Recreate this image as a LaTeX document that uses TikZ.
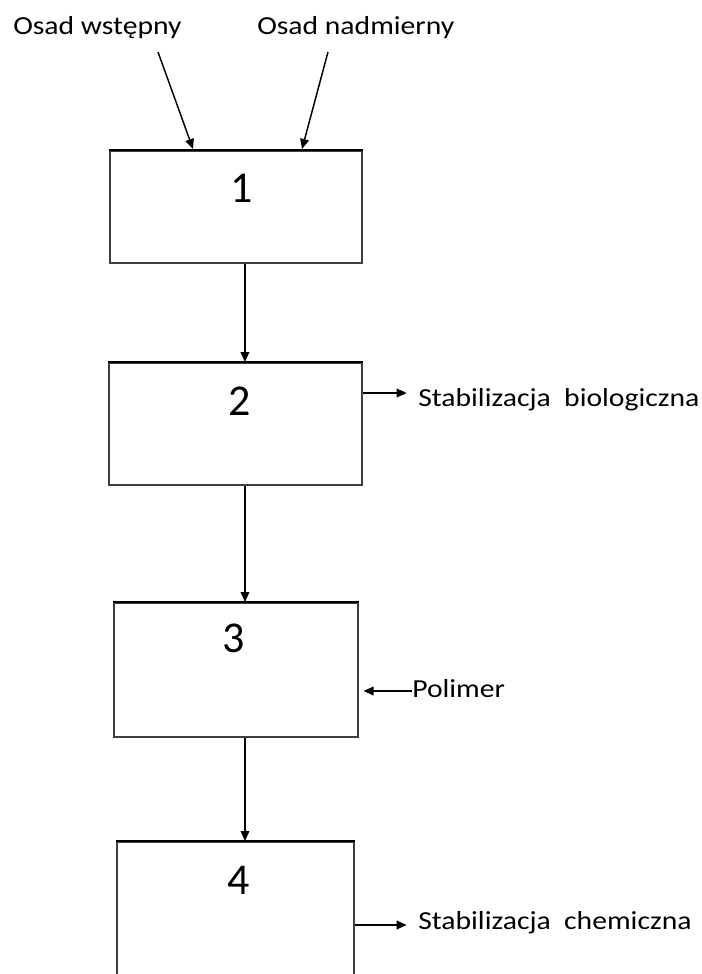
\documentclass[tikz,border=0pt]{standalone}
\usepackage{fontspec}
\setmainfont{Carlito}
\newfontfamily\lblfont[FakeStretch=1.14]{Carlito}
\usetikzlibrary{arrows.meta}
\begin{document}
\begin{tikzpicture}[x=0.75pt,y=-0.75pt,
  box/.style={draw=black!75, line width=1.4pt, rectangle, inner sep=0pt, anchor=north west},
  topedge/.style={draw=black, line width=2pt},
  num/.style={font=\fontsize{33}{36}\selectfont, inner sep=0pt},
  lbl/.style={font=\lblfont\fontsize{19.5}{22}\selectfont, inner sep=0pt, anchor=base west},
  arr/.style={draw=black, line width=1.1pt, -{Triangle[length=7.5pt,width=6.5pt]}}]
\useasboundingbox (0,0) rectangle (702,974);
\clip (0,0) rectangle (702,974);
\fill[white] (0,0) rectangle (702,974);
% boxes
\node[box, minimum width=252*0.75pt, minimum height=112*0.75pt] (b1) at (109,150) {};
\node[box, minimum width=253*0.75pt, minimum height=122*0.75pt] (b2) at (108,362) {};
\node[box, minimum width=244*0.75pt, minimum height=134*0.75pt] (b3) at (113,602) {};
\node[box, minimum width=237*0.75pt, minimum height=180*0.75pt] (b4) at (116,841) {};
\foreach \b in {b1,b2,b3,b4} \draw[topedge] (\b.north west) -- (\b.north east);
% numbers
\node[num] (n1) at (242,188) {1};
\node[num] (n2) at (240,401) {2};
\node[num] (n3) at (234,638) {3};
\node[num] (n4) at (239,880) {4};
% labels
\node[lbl] (t1) at (13,35) {Osad wstępny};
\node[lbl] (t2) at (257,35) {Osad nadmierny};
\node[lbl] (t3) at (418,406) {Stabilizacja\ \ biologiczna};
\node[lbl] (t4) at (412,697) {Polimer};
\node[lbl] (t5) at (418,929) {Stabilizacja\ \ chemiczna};
% connector end points
\coordinate (s1) at (158,52);
\coordinate (e1) at (193,149);
\coordinate (s2) at (328,52);
\coordinate (e2) at (302,149);
% arrows
\draw[arr] (s1) -- (e1);
\draw[arr] (s2) -- (e2);
\draw[arr] ([xshift=9*0.75pt]b1.south) -- ([xshift=9*0.75pt]b1.south |- b2.north);
\draw[arr] (b2.south -| 245,0) -- (b3.north -| 245,0);
\draw[arr] (b3.south -| 245,0) -- (b4.north -| 245,0);
\draw[arr, shorten >=8.5pt] (b2.east |- 0,393) -- (t3.west |- 0,393);
\draw[arr, shorten >=3.5pt] (t4.west |- 0,691) -- (b3.east |- 0,691);
\draw[arr, shorten >=8.5pt] (b4.east |- 0,925) -- (t5.west |- 0,925);
\end{tikzpicture}
\end{document}
